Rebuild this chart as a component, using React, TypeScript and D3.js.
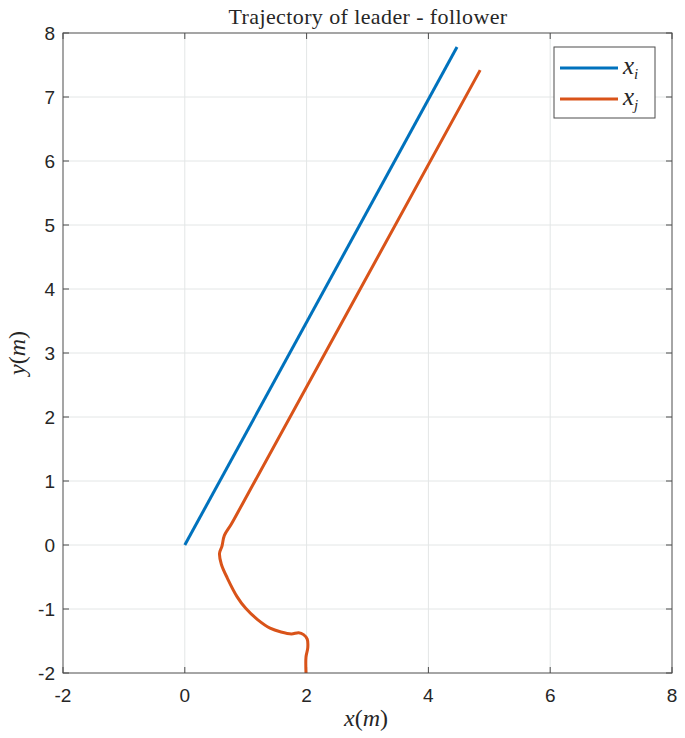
import React, { useEffect, useRef } from "react";
import * as d3 from "d3";

const xTicks = [-2, 0, 2, 4, 6, 8];
const yTicks = [-2, -1, 0, 1, 2, 3, 4, 5, 6, 7, 8];

// leader trajectory x_i
const leaderX = [0, 4.47];
const leaderY = [0, 7.78];

// follower trajectory x_j
const followerX = [1.99, 1.99, 2.02, 2.01, 1.95, 1.87, 1.75, 1.58, 1.4, 1.2, 1.0, 0.86, 0.7, 0.6, 0.57, 0.61, 0.65, 0.76, 0.98, 4.85];
const followerY = [-2, -1.75, -1.6, -1.47, -1.4, -1.37, -1.39, -1.36, -1.3, -1.17, -0.99, -0.81, -0.52, -0.3, -0.13, -0.02, 0.15, 0.32, 0.7, 7.42];

const App = () => {
  const svgRef = useRef<SVGSVGElement>(null);

  useEffect(() => {
    const svg = d3.select(svgRef.current);
    svg.selectAll("*").remove();

    const width = 685;
    const height = 738;
    const left = 63, right = 672, top = 33, bottom = 673;

    const x = d3.scaleLinear().domain([-2, 8]).range([left, right]);
    const y = d3.scaleLinear().domain([-2, 8]).range([bottom, top]);

    svg.attr("width", width).attr("height", height);
    svg.append("rect").attr("width", width).attr("height", height).attr("fill", "#fff");

    const grid = svg.append("g").attr("stroke", "#e3e6e6").attr("stroke-width", 1);
    grid.selectAll(".gx").data(xTicks.slice(1, -1)).enter().append("line")
      .attr("x1", d => x(d)).attr("x2", d => x(d)).attr("y1", top).attr("y2", bottom);
    grid.selectAll(".gy").data(yTicks.slice(1, -1)).enter().append("line")
      .attr("y1", d => y(d)).attr("y2", d => y(d)).attr("x1", left).attr("x2", right);

    // tick marks (inside, all four sides)
    const tk = svg.append("g").attr("stroke", "#4d4d4d").attr("stroke-width", 1);
    xTicks.forEach(t => {
      tk.append("line").attr("x1", x(t)).attr("x2", x(t)).attr("y1", bottom).attr("y2", bottom - 6);
      tk.append("line").attr("x1", x(t)).attr("x2", x(t)).attr("y1", top).attr("y2", top + 6);
    });
    yTicks.forEach(t => {
      tk.append("line").attr("y1", y(t)).attr("y2", y(t)).attr("x1", left).attr("x2", left + 6);
      tk.append("line").attr("y1", y(t)).attr("y2", y(t)).attr("x1", right).attr("x2", right - 6);
    });

    const line = d3.line<[number, number]>().x(d => x(d[0])).y(d => y(d[1]));

    svg.append("path")
      .datum(leaderX.map((v, i) => [v, leaderY[i]] as [number, number]))
      .attr("d", line).attr("fill", "none").attr("stroke", "#0072BD").attr("stroke-width", 3);

    svg.append("path")
      .datum(followerX.map((v, i) => [v, followerY[i]] as [number, number]))
      .attr("d", line.curve(d3.curveCatmullRom))
      .attr("fill", "none").attr("stroke", "#D95319").attr("stroke-width", 3)
      .attr("stroke-linejoin", "round");

    svg.append("rect")
      .attr("x", left).attr("y", top).attr("width", right - left).attr("height", bottom - top)
      .attr("fill", "none").attr("stroke", "#4d4d4d").attr("stroke-width", 1);

    const tickFont = "'Liberation Sans', Arial, sans-serif";
    svg.append("g").selectAll("text").data(xTicks).enter().append("text")
      .attr("x", d => x(d)).attr("y", bottom + 29).attr("text-anchor", "middle")
      .style("font-family", tickFont).style("font-size", "19px").attr("fill", "#262626")
      .text(d => d);
    svg.append("g").selectAll("text").data(yTicks).enter().append("text")
      .attr("x", left - 8).attr("y", d => y(d) + 7).attr("text-anchor", "end")
      .style("font-family", tickFont).style("font-size", "19px").attr("fill", "#262626")
      .text(d => d);

    const serif = "'Liberation Serif', serif";
    svg.append("text").attr("x", 368).attr("y", 24).attr("text-anchor", "middle")
      .style("font-family", serif).style("font-size", "22px").style("letter-spacing", "0.4px")
      .attr("fill", "#262626")
      .text("Trajectory of leader - follower");

    const xl = svg.append("text").attr("x", 366).attr("y", 726).attr("text-anchor", "middle")
      .style("font-family", serif).style("font-size", "24px").attr("fill", "#262626");
    xl.append("tspan").style("font-style", "italic").text("x");
    xl.append("tspan").text("(");
    xl.append("tspan").style("font-style", "italic").text("m");
    xl.append("tspan").text(")");

    const yl = svg.append("text").attr("transform", "translate(25,353) rotate(-90)").attr("text-anchor", "middle")
      .style("font-family", serif).style("font-size", "24px").attr("fill", "#262626");
    yl.append("tspan").style("font-style", "italic").text("y");
    yl.append("tspan").text("(");
    yl.append("tspan").style("font-style", "italic").text("m");
    yl.append("tspan").text(")");

    // legend
    const lg = svg.append("g");
    lg.append("rect").attr("x", 554).attr("y", 47).attr("width", 101).attr("height", 71)
      .attr("fill", "#fff").attr("stroke", "#4d4d4d").attr("stroke-width", 1);
    const items = [["i", "#0072BD"], ["j", "#D95319"]];
    items.forEach(([sub, col], i) => {
      const yy = 68 + i * 31;
      lg.append("line").attr("x1", 560).attr("x2", 618).attr("y1", yy).attr("y2", yy)
        .attr("stroke", col).attr("stroke-width", 3);
      const t = lg.append("text").attr("x", 623).attr("y", yy + 6)
        .style("font-family", serif).style("font-style", "italic").style("font-size", "25px")
        .attr("fill", "#262626");
      t.append("tspan").text("x");
      t.append("tspan").attr("dy", 5).style("font-size", "15px").text(sub);
    });
  }, []);

  return <svg ref={svgRef} style={{ display: "block", position: "absolute", left: 0, top: 0 }} />;
};

export default App;
